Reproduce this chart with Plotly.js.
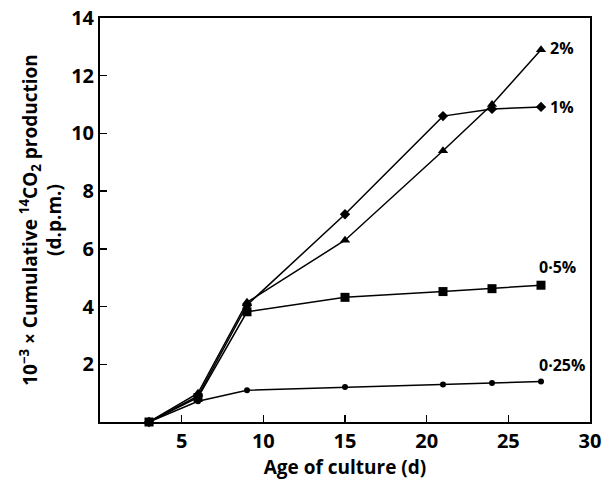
<!DOCTYPE html>
<html><head><meta charset="utf-8">
<script src="https://cdn.plot.ly/plotly-3.0.1.min.js"></script>
<style>html,body{margin:0;padding:0;background:#fff;}#chart{width:608px;height:481px;}</style>
</head><body><div id="chart"></div>
<script>
const days = [3, 6, 9, 15, 21, 24, 27];
const conc2 = [0, 1.0, 4.15, 6.3, 9.4, 11.0, 12.9];
const conc1 = [0, 0.9, 4.05, 7.2, 10.6, 10.85, 10.92];
const conc05 = [0, 0.85, 3.82, 4.32, 4.52, 4.62, 4.74];
const conc025 = [0, 0.72, 1.1, 1.21, 1.3, 1.35, 1.4];
const seriesNames = ['2%', '1%', '0·5%', '0·25%'];
const xTicks = [5, 10, 15, 20, 25, 30];
const yTicks = [2, 4, 6, 8, 10, 12, 14];

const font = 'Open Sans, Liberation Sans, Arial, sans-serif';
function tr(y, sym, size, name) {
  return {x: days, y: y, name: name, type: 'scatter', mode: 'lines+markers',
    line: {color: '#000', width: 1.5},
    marker: {symbol: sym, size: size, color: '#000'},
    cliponaxis: false};
}
const data = [
  tr(conc025, 'circle', 6, seriesNames[3]),
  tr(conc05, 'square', 9, seriesNames[2]),
  tr(conc1, 'diamond', 8, seriesNames[1]),
  tr(conc2, 'triangle-up', 9, seriesNames[0])
];
const lastIdx = days.length - 1;
const annotations = [
  {x: days[lastIdx], y: conc2[lastIdx], text: seriesNames[0], xanchor: 'left', yanchor: 'middle', xshift: 7, yshift: 2},
  {x: days[lastIdx], y: conc1[lastIdx], text: seriesNames[1], xanchor: 'left', yanchor: 'middle', xshift: 7},
  {x: days[lastIdx], y: conc05[lastIdx], text: seriesNames[2], xanchor: 'left', yanchor: 'bottom', xshift: -4, yshift: 5},
  {x: days[lastIdx], y: conc025[lastIdx], text: seriesNames[3], xanchor: 'left', yanchor: 'bottom', xshift: -4, yshift: 4}
].map(a => Object.assign(a, {showarrow: false, font: {family: font, size: 16, color: '#000', weight: 'bold'}}));

const layout = {
  width: 608, height: 481,
  margin: {l: 100, r: 18, t: 18, b: 59},
  paper_bgcolor: '#fff', plot_bgcolor: '#fff',
  showlegend: false,
  font: {family: font, color: '#000'},
  xaxis: {range: [0, 30], tickvals: xTicks, ticks: 'inside', ticklen: 7, tickwidth: 1.5, tickcolor: '#000',
    showline: true, linewidth: 2, linecolor: '#000', mirror: true, showgrid: false, zeroline: false,
    tickfont: {family: font, size: 20, color: '#000', weight: 'bold'},
    title: {text: 'Age of culture (d)', font: {family: font, size: 19, color: '#000', weight: 'bold'}, standoff: 4}},
  yaxis: {range: [0, 14], tickvals: yTicks, ticks: 'inside', ticklen: 7, tickwidth: 1.5, tickcolor: '#000',
    showline: true, linewidth: 2, linecolor: '#000', mirror: true, showgrid: false, zeroline: false,
    tickfont: {family: font, size: 20, color: '#000', weight: 'bold'},
    title: {text: '10<sup>−3</sup> × Cumulative <sup>14</sup>CO<sub>2</sub> production<br>(d.p.m.)',
      font: {family: font, size: 19, color: '#000', weight: 'bold'}, standoff: 4}},
  annotations: annotations
};
Plotly.newPlot('chart', data, layout, {displayModeBar: false, staticPlot: true});
</script></body></html>
